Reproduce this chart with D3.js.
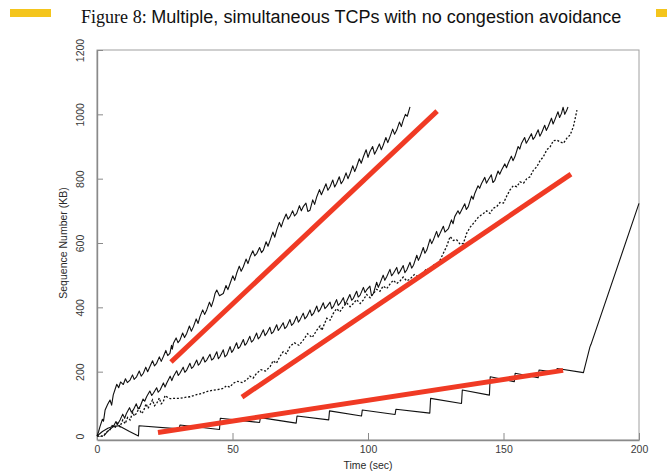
<!DOCTYPE html>
<html><head><meta charset="utf-8">
<script src="https://cdn.jsdelivr.net/npm/d3@7/dist/d3.min.js"></script>
<style>html,body{margin:0;padding:0;background:#fff;}svg{display:block;}</style>
</head><body>
<svg id="c" width="667" height="475"></svg>
<script>
const titlePrefix = "Figure 8: ";
const titleMain = "Multiple, simultaneous TCPs with no congestion avoidance";
const xLabel = "Time (sec)";
const yLabel = "Sequence Number (KB)";
const xTicks = [0, 50, 100, 150, 200];
const yTicks = [0, 200, 400, 600, 800, 1000, 1200];

// Series: [time (sec), sequence number (KB)]
const flowA = [[0,0],[0.6,14],[1.1,29],[2.0,52],[2.4,46],[3.0,81],[3.9,98],[4.8,112],[5.4,96],[6.0,128],[6.6,143],[7.3,161],[8.0,150],[8.7,168],[9.7,160],[10.5,178],[11.2,166],[12.2,174],[13.1,190],[13.7,176],[14.6,184],[15.6,202],[16.3,186],[17.1,195],[18.0,214],[18.7,200],[19.5,215],[20.5,234],[21.2,218],[22.0,226],[23.0,246],[23.7,232],[24.5,247],[25.4,266],[26.1,250],[26.9,257],[27.5,282],[27.8,270],[28.2,288],[29.2,305],[29.9,290],[30.6,298],[31.6,320],[32.3,306],[33.1,319],[34.1,342],[34.8,326],[35.6,340],[36.6,364],[37.3,350],[38.0,371],[39.0,392],[39.7,378],[40.5,392],[41.5,416],[42.2,402],[43.0,423],[43.6,444],[44.2,454],[45.2,436],[46.6,443],[47.6,468],[48.3,455],[49.1,474],[50.1,498],[50.8,484],[51.5,505],[52.5,528],[53.2,512],[54.0,526],[55.0,550],[55.7,536],[56.5,557],[57.5,576],[58.2,560],[59.0,568],[60.0,586],[60.7,570],[61.4,578],[62.4,604],[63.1,590],[63.9,609],[64.9,634],[65.6,618],[66.3,640],[67.3,664],[68.0,650],[68.8,671],[69.8,690],[70.5,674],[71.2,682],[72.2,700],[72.9,684],[73.7,692],[74.7,716],[75.4,700],[76.1,713],[77.1,724],[77.8,698],[78.6,702],[79.6,734],[80.3,720],[81.1,744],[82.1,766],[82.8,750],[83.5,764],[84.5,784],[85.2,764],[86.0,775],[87.0,796],[87.7,774],[88.4,785],[89.4,806],[90.1,784],[90.9,795],[91.9,818],[92.6,800],[93.4,816],[94.4,840],[95.1,822],[95.8,837],[96.8,862],[97.5,848],[98.3,868],[99.3,890],[100.0,866],[100.7,884],[101.7,900],[102.4,876],[103.2,889],[104.2,908],[104.9,890],[105.6,904],[106.6,928],[107.3,912],[108.1,930],[109.1,954],[109.8,938],[110.6,951],[111.6,976],[112.3,962],[113.0,982],[113.8,1000],[114.5,994],[115.5,1023]];

const flowB = [[2.5,0],[4,15],[6.0,29],[7,45],[7.5,35],[8.5,50],[9.5,68],[10.2,55],[10.9,71],[12,88],[12.7,74],[13.4,81],[14.5,100],[15.2,84],[15.9,91],[17,115],[17.6,108],[18.3,122],[19.5,140],[20.2,126],[20.8,133],[22,150],[22.6,136],[23.3,143],[24.5,165],[25.1,152],[25.7,164],[27,186],[27.6,172],[28.2,185],[29.4,203],[30,188],[30.6,195],[31.8,214],[32.4,198],[33.1,205],[34.3,226],[34.9,210],[35.6,216],[36.8,236],[37.4,220],[38.0,226],[39.2,246],[39.8,230],[40.5,236],[41.7,254],[42.3,236],[43.0,241],[44.2,262],[44.8,240],[45.4,247],[46.6,268],[47.2,246],[47.9,252],[49.1,278],[49.7,260],[50.3,267],[51.5,290],[52.1,272],[52.8,278],[54,300],[54.6,282],[55.2,288],[56.4,310],[57,292],[57.7,298],[58.9,320],[59.5,302],[60.2,309],[61.4,330],[62,312],[62.6,319],[63.8,338],[64.4,318],[65.1,324],[66.3,346],[66.9,328],[67.5,335],[68.7,352],[69.3,334],[70,340],[71.2,362],[71.8,344],[72.5,350],[73.7,372],[74.3,354],[74.9,361],[76.1,382],[76.7,364],[77.4,371],[78.6,392],[79.2,374],[79.9,381],[81.1,404],[81.7,386],[82.3,392],[83.5,414],[84.1,396],[84.8,402],[86,416],[86.6,396],[87.2,402],[88.4,424],[89,406],[89.7,412],[90.9,430],[91.5,410],[92.1,418],[93.3,440],[94,422],[94.6,428],[95.8,450],[96.4,432],[97.1,438],[98.3,462],[98.9,446],[99.5,454],[100.7,466],[101.3,436],[102,443],[103.2,478],[103.8,462],[104.4,474],[105.6,500],[106.2,484],[106.9,495],[108.1,518],[108.7,498],[109.4,506],[110.6,524],[111.2,504],[111.8,511],[113,530],[113.6,508],[114.3,516],[115.5,540],[116.1,522],[116.8,531],[118,562],[118.6,546],[119.2,557],[120.4,586],[121,568],[121.7,578],[122.9,612],[123.5,598],[124.1,609],[125.3,636],[125.9,618],[126.6,630],[127.8,652],[128.4,634],[129.7,645],[130.8,672],[131.4,660],[132,682],[133.2,700],[133.8,690],[134.5,702],[135.7,722],[136.3,704],[137,713],[138.2,746],[138.8,736],[139.4,754],[140.6,778],[141.2,770],[141.9,785],[143.1,804],[143.7,786],[144.3,795],[145.5,812],[146.1,788],[146.8,795],[148,824],[148.6,814],[149.3,827],[150.5,846],[151.1,834],[151.7,847],[152.9,870],[153.5,856],[154.2,868],[155.4,900],[156,892],[156.6,909],[157.8,928],[158.4,910],[159.1,920],[160.3,940],[160.9,922],[161.6,930],[162.8,952],[163.4,932],[164,941],[165.2,966],[165.8,950],[166.5,962],[167.7,988],[168.3,970],[168.9,982],[170.1,1008],[170.7,990],[171.4,1003],[172,1022],[172.6,1000],[173.2,1010],[173.8,1023]];

const flowC = [[0,0],[2.3,0],[3.5,12],[4.8,19],[5.8,36],[6.6,24],[7.5,40],[8.5,29],[9.5,50],[10.4,38],[11.3,58],[12.2,50],[13.2,74],[13.8,62],[14.6,71],[15.6,88],[16.3,70],[17.1,76],[18.1,100],[18.8,86],[19.5,96],[20.5,112],[21.2,94],[22,101],[23,118],[23.7,100],[24.5,107],[25.1,126],[25.7,122],[27,116],[28.2,117],[30.6,117],[32.5,120],[34.3,122],[36.5,128],[38.5,132],[40.5,138],[42.5,142],[44.5,144],[46.6,148],[47.8,156],[49,152],[50.3,164],[51.8,170],[53.5,166],[55.2,174],[56.4,186],[57.6,180],[58.9,195],[60.5,206],[62.2,202],[63.9,216],[65,234],[66.2,226],[67.5,247],[68.7,262],[69.9,256],[71.2,278],[72.8,290],[74.5,282],[76.1,298],[77.7,318],[79.4,306],[81.1,329],[82.3,342],[83,328],[83.5,340],[84.8,366],[86,360],[87.2,381],[88.4,396],[89.6,386],[90.9,402],[92.1,414],[93.4,402],[94.6,412],[95.8,424],[97.1,412],[98.3,423],[99.5,440],[100.8,430],[102,443],[103.2,456],[104.4,450],[105.6,466],[106.9,458],[108.1,472],[109.3,484],[110.6,474],[111.8,482],[113,494],[114.3,482],[115.5,488],[117.1,502],[118.8,494],[120.4,508],[121.7,520],[123,518],[124.8,536],[125.6,530],[126.6,547],[127.8,568],[129,589],[130.3,620],[131.5,608],[132.7,610],[134,596],[135.2,599],[136.4,630],[137.6,648],[138.9,661],[140.7,680],[142.6,692],[143.8,700],[145,692],[146.2,708],[147.5,713],[148.7,726],[150,724],[151.2,746],[152.4,765],[153.6,778],[154.9,775],[156.1,790],[157.4,786],[158.6,800],[159.8,806],[161,826],[162.3,837],[163.5,856],[164.7,868],[166,890],[167.2,899],[168.4,918],[169.7,920],[170.9,914],[172.1,910],[173.4,926],[174.6,936],[175.8,962],[177.1,1013]];

const flowD = [[0,0],[2,14],[4,24],[6,30],[8,32],[9.1,27],[12,14],[15.3,0],[15.5,32],[30.3,22],[30.6,34],[45.2,20],[45.5,55],[60,42],[60.3,57],[73.5,40],[73.8,62],[85.5,50],[85.8,78],[97.6,62],[97.9,81],[110,67],[110.3,83],[122.8,71],[123.1,117],[134.5,101],[134.8,143],[144.8,127],[145.1,184],[154,169],[154.3,195],[162.8,181],[163.1,205],[169.5,198],[169.8,210],[179.5,197],[181.9,277],[182.3,285],[200,723]];

// Red trend lines: [start, end]
const trendLines = [
  [[27.3,230],[125.5,1010]],
  [[53.5,121],[174.9,814]],
  [[22.5,11],[172,204]]
];

const svg = d3.select("#c");
const L = 97, R = 639, T = 50, B = 440;
const x = d3.scaleLinear().domain([0,200]).range([L,R]);
const y = d3.scaleLinear().domain([0,1200]).range([436,50]);

// yellow decoration bars
svg.append("rect").attr("x",10).attr("y",9).attr("width",41).attr("height",8).attr("fill","#f4c51c");
svg.append("rect").attr("x",656).attr("y",9).attr("width",11).attr("height",8).attr("fill","#f4c51c");

// title
const title = svg.append("text").attr("x",81).attr("y",23).attr("fill","#111");
title.append("tspan").attr("font-family","'Liberation Serif','Times New Roman',serif").attr("font-size",17.5).text(titlePrefix);
title.append("tspan").attr("font-family","'Liberation Sans',Arial,sans-serif").attr("font-size",17.5).text(titleMain);
const tw = title.node().getComputedTextLength();
const fs = 17.5 * 541 / tw;
title.selectAll("tspan").attr("font-size", fs);

// plot box
svg.append("rect").attr("x",L).attr("y",T).attr("width",R-L).attr("height",B-T)
  .attr("fill","none").attr("stroke","#a0a0a0").attr("stroke-width",1);

const axisCol = "#8a8a8a";
const fmt = d3.format("d");
const gx = svg.append("g").attr("transform",`translate(0,${B})`)
  .call(d3.axisBottom(x).tickValues(xTicks).tickFormat(fmt).tickSize(-7).tickSizeOuter(0).tickPadding(6));
const gy = svg.append("g").attr("transform",`translate(${L},0)`)
  .call(d3.axisLeft(y).tickValues(yTicks).tickFormat(fmt).tickSize(-6).tickSizeOuter(0).tickPadding(6));
[gx,gy].forEach(g=>{
  g.select(".domain").attr("stroke",axisCol).attr("stroke-width",1.4);
  g.selectAll(".tick line").attr("stroke",axisCol).attr("stroke-width",1);
  g.selectAll(".tick text").attr("fill","#3a3a3a").attr("font-size",10.5)
    .attr("font-family","'Liberation Sans',Arial,sans-serif");
});
gy.selectAll(".tick text").attr("x",0).attr("y",-13).attr("dy",0)
  .attr("text-anchor","middle").attr("transform","rotate(-90)");

svg.append("text").attr("x",368).attr("y",469).attr("text-anchor","middle")
  .attr("font-family","'Liberation Sans',Arial,sans-serif").attr("font-size",10.5).attr("fill","#2a2a2a").text(xLabel);
svg.append("text").attr("transform","translate(67,243) rotate(-90)").attr("text-anchor","middle")
  .attr("font-family","'Liberation Sans',Arial,sans-serif").attr("font-size",10.5).attr("fill","#2a2a2a").text(yLabel);

const line = d3.line().x(d=>x(d[0])).y(d=>y(d[1]));
const plot = svg.append("g");
[flowA, flowB, flowD].forEach(s=>{
  plot.append("path").attr("d",line(s)).attr("fill","none").attr("stroke","#111").attr("stroke-width",1.1).attr("stroke-linejoin","round");
});
plot.append("path").attr("d",line(flowC)).attr("fill","none").attr("stroke","#111")
  .attr("stroke-width",1.3).attr("stroke-dasharray","2,1.8");

trendLines.forEach(s=>{
  plot.append("path").attr("d",line(s)).attr("fill","none").attr("stroke","#f03a24").attr("stroke-width",5);
});
</script>
</body></html>
